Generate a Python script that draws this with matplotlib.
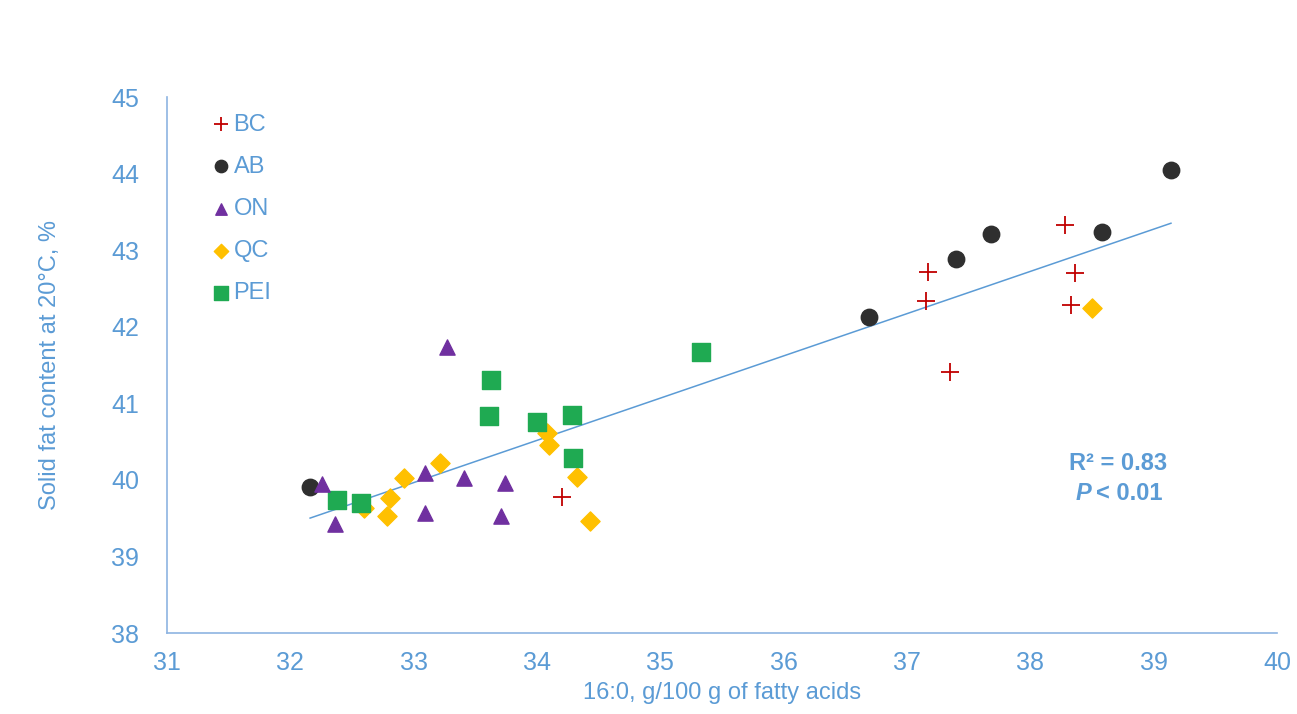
import matplotlib.pyplot as plt
import numpy as np

plt.rcParams['font.family'] = ['Liberation Sans Narrow', 'Liberation Sans', 'DejaVu Sans']

blue = "#5B9BD5"

# 16:0 (g/100 g fatty acids) and solid fat content at 20 °C by province
bc_x = [37.15, 37.17, 37.35, 38.28, 38.36, 38.33, 34.20]
bc_y = [42.33, 42.71, 41.41, 43.33, 42.70, 42.29, 39.78]

ab_x = [32.16, 36.69, 37.40, 37.68, 38.58, 39.14]
ab_y = [39.91, 42.13, 42.88, 43.21, 43.24, 44.05]

on_x = [32.26, 32.36, 33.09, 33.09, 33.27, 33.41, 33.74, 33.71]
on_y = [39.95, 39.43, 40.09, 39.57, 41.74, 40.02, 39.96, 39.53]

qc_x = [32.60, 32.81, 32.78, 32.92, 33.21, 34.08, 34.10, 34.32, 34.43, 38.50]
qc_y = [39.63, 39.76, 39.53, 40.03, 40.22, 40.61, 40.45, 40.04, 39.46, 42.24]

pei_x = [32.38, 32.57, 33.63, 33.61, 34.00, 34.28, 34.29, 35.33]
pei_y = [39.74, 39.70, 41.31, 40.84, 40.75, 40.85, 40.29, 41.67]

all_x = np.array(bc_x + ab_x + on_x + qc_x + pei_x)
all_y = np.array(bc_y + ab_y + on_y + qc_y + pei_y)
slope, intercept = np.polyfit(all_x, all_y, 1)

fig = plt.figure(figsize=(12.97, 7.14), dpi=100)
ax = fig.add_axes([0.1288, 0.1134, 0.8558, 0.7507])

# trend line over the range of the data
xs = np.array([all_x.min(), all_x.max()])
ax.plot(xs, slope * xs + intercept, color=blue, lw=1.1, zorder=1)

ax.scatter(bc_x, bc_y, marker="+", s=170, color="#C00000", linewidths=1.3, label="BC", zorder=3)
ax.scatter(ab_x, ab_y, marker="o", s=140, color="#2F2F2F", label="AB", zorder=3)
ax.scatter(on_x, on_y, marker="^", s=120, color="#7030A0", label="ON", zorder=3)
ax.scatter(qc_x, qc_y, marker="D", s=95, color="#FFC000", label="QC", zorder=2)
ax.scatter(pei_x, pei_y, marker="s", s=170, color="#1FAA52", label="PEI", zorder=2)

ax.set_xlim(31, 40)
ax.set_ylim(38, 45)
ax.set_xticks(range(31, 41))
ax.set_yticks(range(38, 46))
ax.tick_params(length=0, labelsize=18, labelcolor=blue, pad=13)
ax.tick_params(axis="y", pad=20)
for s in ["top", "right"]:
    ax.spines[s].set_visible(False)
for s in ["left", "bottom"]:
    ax.spines[s].set_color("#8DB4E2")
    ax.spines[s].set_linewidth(1.2)

ax.set_xlabel("16:0, g/100 g of fatty acids", fontsize=17, color=blue, labelpad=5)
ax.set_ylabel("Solid fat content at 20°C, %", fontsize=17, color=blue, labelpad=36)

leg = ax.legend(loc="upper left", bbox_to_anchor=(0.012, 1.0), frameon=False,
                fontsize=17, labelcolor=blue, handletextpad=-0.45,
                labelspacing=0.85, markerscale=0.75, borderaxespad=0.3)

ax.text(0.857, 0.317, "R² = 0.83", transform=ax.transAxes, fontsize=17,
        color=blue, fontweight="bold", ha="center", va="center")
ax.text(0.833, 0.261, "P", transform=ax.transAxes, fontsize=17,
        color=blue, fontweight="bold", fontstyle="italic", ha="right", va="center")
ax.text(0.837, 0.261, "< 0.01", transform=ax.transAxes, fontsize=17,
        color=blue, fontweight="bold", ha="left", va="center")

fig.savefig("out.png", dpi=100)
